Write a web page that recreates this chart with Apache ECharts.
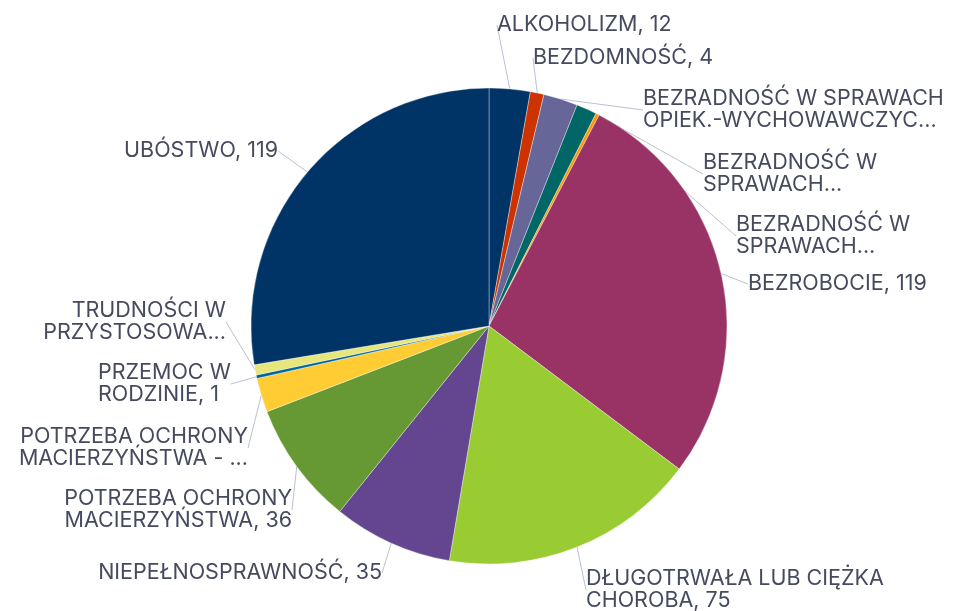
<!DOCTYPE html>
<html>
<head>
<meta charset="utf-8">
<script src="https://cdn.jsdelivr.net/npm/echarts@6/dist/echarts.min.js"></script>
<style>html,body{margin:0;padding:0;background:#fff;}#c{width:957px;height:611px;}</style>
</head>
<body>
<div id="c"></div>
<script>
const categories = [
  "ALKOHOLIZM",
  "BEZDOMNOŚĆ",
  "BEZRADNOŚĆ W SPRAWACH OPIEK.-WYCHOWAWCZYC...",
  "BEZRADNOŚĆ W SPRAWACH...",
  "BEZRADNOŚĆ W SPRAWACH...",
  "BEZROBOCIE",
  "DŁUGOTRWAŁA LUB CIĘŻKA CHOROBA",
  "NIEPEŁNOSPRAWNOŚĆ",
  "POTRZEBA OCHRONY MACIERZYŃSTWA",
  "POTRZEBA OCHRONY MACIERZYŃSTWA - ...",
  "PRZEMOC W RODZINIE",
  "TRUDNOŚCI W PRZYSTOSOWA...",
  "UBÓSTWO"
];
const values = [12, 4, 10, 6, 1, 119, 75, 35, 36, 10, 1, 3, 119];
// displayed label text (wrapped as in the reference; truncated ones show no value)
const labelTexts = [
  "ALKOHOLIZM, 12",
  "BEZDOMNOŚĆ, 4",
  "BEZRADNOŚĆ W SPRAWACH\nOPIEK.-WYCHOWAWCZYC...",
  "BEZRADNOŚĆ W\nSPRAWACH...",
  "BEZRADNOŚĆ W\nSPRAWACH...",
  "BEZROBOCIE, 119",
  "DŁUGOTRWAŁA LUB CIĘŻKA\nCHOROBA, 75",
  "NIEPEŁNOSPRAWNOŚĆ, 35",
  "POTRZEBA OCHRONY\nMACIERZYŃSTWA, 36",
  "POTRZEBA OCHRONY\nMACIERZYŃSTWA - ...",
  "PRZEMOC W\nRODZINIE, 1",
  "TRUDNOŚCI W\nPRZYSTOSOWA...",
  "UBÓSTWO, 119"
];
const colors = ["#003366","#cc3300","#666699","#006666","#ff9900","#993366","#99cc33","#634590","#669933","#ffcc33","#006699","#e6e67a","#003366"];

// label anchor layout: [x, y(middle), align]
const labelPos = [
  [497, 25, 'left'],
  [533, 58, 'left'],
  [643, 110, 'left'],
  [703, 174, 'left'],
  [736, 236, 'left'],
  [748, 284, 'left'],
  [586, 590, 'left'],
  [382, 573, 'right'],
  [292, 510, 'right'],
  [248, 448, 'right'],
  [98, 384, 'left'],
  [226, 322, 'right'],
  [278, 151, 'right']
];

const chart = echarts.init(document.getElementById('c'), null, {renderer: 'canvas'});
chart.setOption({
  animation: false,
  backgroundColor: '#fff',
  series: [{
    type: 'pie',
    center: [489, 326],
    radius: [0, 238],
    startAngle: 90,
    clockwise: true,
    avoidLabelOverlap: false,
    data: categories.map((n, i) => ({
      name: n,
      value: values[i],
      itemStyle: {color: colors[i]}
    })),
    itemStyle: {borderColor: 'rgba(255,255,255,0.6)', borderWidth: 0.6},
    label: {
      show: true,
      formatter: p => labelTexts[p.dataIndex],
      color: '#464a5e',
      fontFamily: 'Inter',
      fontSize: 21.5,
      lineHeight: 22
    },
    labelLine: {
      show: true,
      length: 10,
      length2: 0,
      smooth: false,
      lineStyle: {color: '#b8c2d3', width: 1}
    },
    labelLayout: function (params) {
      const p = labelPos[params.dataIndex];
      return {x: p[0], y: p[1], align: p[2], verticalAlign: 'middle', hideOverlap: false, moveOverlap: null};
    },
    emphasis: {disabled: true}
  }]
});
</script>
</body>
</html>
